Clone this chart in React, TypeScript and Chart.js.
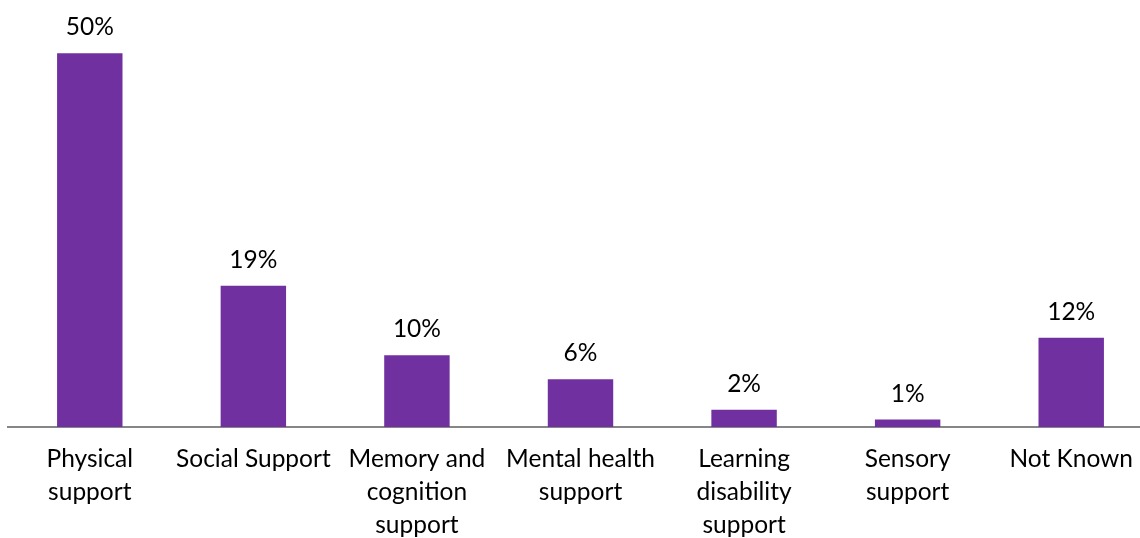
import React, { useEffect, useRef } from "react";
import { Chart, registerables } from "chart.js";

Chart.register(...registerables);

const categories: string[][] = [
  ["Physical", "support"],
  ["Social Support"],
  ["Memory and", "cognition", "support"],
  ["Mental health", "support"],
  ["Learning", "disability", "support"],
  ["Sensory", "support"],
  ["Not Known"],
];
const values: number[] = [50, 18.9, 9.6, 6.4, 2.3, 1.0, 11.95];
const valueLabels: string[] = ["50%", "19%", "10%", "6%", "2%", "1%", "12%"];

const FONT = "Lato, 'Open Sans', sans-serif";
const FONT_SIZE = 24.5;

const labelPlugin = {
  id: "valueLabels",
  afterDatasetsDraw(chart: any) {
    const ctx = chart.ctx;
    const meta = chart.getDatasetMeta(0);
    ctx.save();
    ctx.font = `${FONT_SIZE}px ${FONT}`;
    ctx.fillStyle = "#000000";
    ctx.textAlign = "center";
    ctx.textBaseline = "alphabetic";
    meta.data.forEach((el: any, i: number) => {
      ctx.fillText(valueLabels[i], el.x, el.y - 18);
    });
    ctx.restore();
  },
};

export default function App() {
  const ref = useRef<HTMLCanvasElement | null>(null);
  useEffect(() => {
    if (!ref.current) return;
    const chart = new Chart(ref.current, {
      type: "bar",
      data: {
        labels: categories,
        datasets: [
          {
            data: values,
            backgroundColor: "#7030A0",
            borderWidth: 0,
            categoryPercentage: 1,
            barPercentage: 0.4,
          },
        ],
      },
      options: {
        animation: false,
        responsive: true,
        maintainAspectRatio: false,
        layout: { padding: { left: 8, right: 0, top: 16, bottom: 0 } },
        plugins: { legend: { display: false }, tooltip: { enabled: false } },
        scales: {
          x: {
            grid: { display: false, drawTicks: false },
            border: { display: true, color: "#868686", width: 2 },
            ticks: {
              color: "#000000",
              font: { family: FONT, size: FONT_SIZE, lineHeight: 33 / FONT_SIZE },
              padding: 16,
              maxRotation: 0,
              autoSkip: false,
            },
            afterFit: (scale: any) => {
              scale.height = 111;
            },
          },
          y: {
            display: false,
            min: 0,
            max: 55,
          },
        },
      },
      plugins: [labelPlugin],
    });
    return () => chart.destroy();
  }, []);
  return (
    <div style={{ position: "fixed", left: 0, top: 0, width: 1140, height: 538, overflow: "hidden", background: "#ffffff" }}>
      <div style={{ position: "relative", width: 1153, height: 538 }}>
        <canvas ref={ref} />
      </div>
    </div>
  );
}
